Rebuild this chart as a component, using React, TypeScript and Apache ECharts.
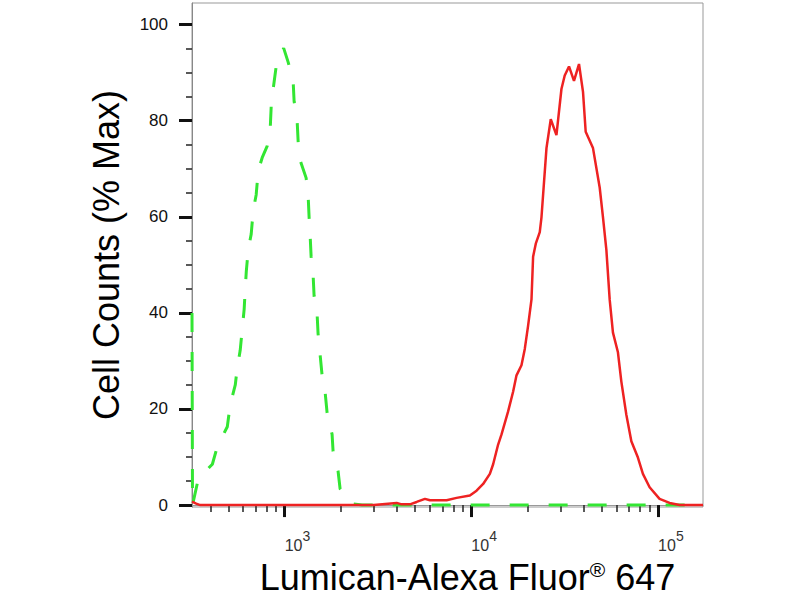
import * as echarts from "echarts";
import { useEffect, useRef } from "react";

// axis ranges (log x, linear y)
const xMin = 319;
const xMax = 174000;
const yMin = -0.4;
const yMax = 104.5;

const xMajorTicks = [1000, 10000, 100000];
const xMinorTicks = [
    400, 500, 600, 700, 800, 900,
    2000, 3000, 4000, 5000, 6000, 7000, 8000, 9000,
    20000, 30000, 40000, 50000, 60000, 70000, 80000, 90000
];
const yMajorTicks = [0, 20, 40, 60, 80, 100];
const yMinorTicks = [5, 10, 15, 25, 30, 35, 45, 50, 55, 65, 70, 75, 85, 90, 95];

// isotype control (green dashed)
const greenX = [
    319, 321, 345, 410, 436, 493, 511, 544, 557, 578, 593, 607, 615, 623, 638, 662, 679, 704,
    722, 758, 806, 837, 847, 868, 900, 970, 988, 1044, 1110, 1124, 1166, 1181, 1210, 1303,
    1336, 1352, 1369, 1386, 1420, 1438, 1492, 1510, 1587, 1647, 1688, 1795, 1817, 1932, 1981,
    2296, 2600, 5000, 20000, 100000, 174000
];
const greenY = [
    40, 0, 5.5, 8.5, 12.2, 16.3, 20.9, 25.0, 28.5, 32.2, 36.7, 40.8, 44.9, 48.6, 53.1, 56.4, 61.4, 64.6,
    69.6, 72.3, 74.7, 78.4, 82.9, 86.6, 91.2, 94.4, 95.1, 92.2, 88.3, 84.0, 80.1, 75.7, 71.8, 68.1,
    64.4, 59.9, 56.2, 51.7, 48.0, 43.5, 39.8, 35.7, 27.0, 23.5, 19.2, 14.7, 11.2, 7.1, 3.4,
    0.3, 0, 0, 0, 0, 0
];

// Lumican stained (red)
const redX = [
    319, 336, 353, 1000, 3000, 3981, 4234, 4690, 5093, 5641, 5998, 7369, 8334, 9818, 10661,
    11563, 12561, 13081, 13910, 14506, 15735, 16730, 17447, 18550, 19325, 20125, 20990, 21410,
    22130, 23245, 23740, 25250, 26620, 28550, 30370, 31620, 33340, 35450, 37710, 39620, 40950,
    44810, 48670, 50690, 52850, 55040, 57320, 60950, 63570, 67610, 71910, 77980, 82940, 90070,
    101850, 115200, 130300, 174000
];
const redY = [
    0.7, 0.3, 0, 0, 0, 0.45, 0.15, 0.15, 0.65, 1.3, 1.0, 1.0, 1.5, 2.0, 3.0,
    4.4, 6.5, 8.5, 12.6, 14.7, 19.5, 23.6, 27.0, 29.1, 32.5, 37.3, 42.8, 51.7,
    54.4, 56.8, 59.9, 74.3, 80.3, 77.0, 86.6, 89.4, 91.3, 88.3, 91.8, 86.0, 77.7,
    74.3, 66.1, 59.9, 53.1, 42.8, 35.9, 31.8, 25.7, 18.8, 13.3, 9.9, 6.5, 3.7,
    1.3, 0.45, 0, 0
];

const FONT = "Liberation Sans, Arial, sans-serif";

export default function App() {
    const chartRef = useRef<HTMLDivElement>(null);

    useEffect(() => {
        if (!chartRef.current) return;
        const chart = echarts.init(chartRef.current, null, { renderer: "svg" });

        const option: echarts.EChartsOption = {
            animation: false,
            backgroundColor: "#fff",
            grid: {
                left: 192,
                right: 97,
                top: 3,
                bottom: 87,
                show: true,
                borderColor: "#999",
                borderWidth: 1
            },
            xAxis: [
                {
                    type: "log",
                    logBase: 10,
                    min: xMin,
                    max: xMax,
                    position: "bottom",
                    name: "{a|Lumican-Alexa Fluor}{r|®}{a| 647}",
                    nameLocation: "middle",
                    nameGap: 52,
                    nameTextStyle: {
                        fontFamily: FONT,
                        color: "#000",
                        padding: [0, 0, 0, 40],
                        rich: {
                            a: { fontFamily: FONT, fontSize: 36, color: "#000", verticalAlign: "bottom" },
                            r: { fontFamily: FONT, fontSize: 21, color: "#000", verticalAlign: "top" }
                        }
                    },
                    axisLine: { lineStyle: { color: "#999", width: 1 } },
                    axisTick: {
                        customValues: xMajorTicks,
                        length: 12,
                        lineStyle: { color: "#111", width: 3 }
                    },
                    axisLabel: {
                        customValues: xMajorTicks,
                        margin: 22,
                        align: "left",
                        formatter: (v: number) => `{a|10}{s|${Math.round(Math.log10(v))}}`,
                        rich: {
                            a: { fontFamily: FONT, fontSize: 16, color: "#333", verticalAlign: "bottom" },
                            s: {
                                fontFamily: FONT,
                                fontSize: 14,
                                color: "#333",
                                verticalAlign: "top",
                                padding: [0, 0, 10, 0]
                            }
                        }
                    },
                    splitLine: { show: false }
                },
                {
                    type: "log",
                    logBase: 10,
                    min: xMin,
                    max: xMax,
                    position: "bottom",
                    axisLine: { show: false },
                    axisTick: {
                        customValues: xMinorTicks,
                        length: 7,
                        lineStyle: { color: "#222", width: 1.5 }
                    },
                    axisLabel: { show: false },
                    splitLine: { show: false }
                }
            ],
            yAxis: [
                {
                    type: "value",
                    min: yMin,
                    max: yMax,
                    position: "left",
                    name: "Cell Counts (% Max)",
                    nameLocation: "middle",
                    nameRotate: 90,
                    nameGap: 68,
                    nameTextStyle: { fontFamily: FONT, fontSize: 36, color: "#000" },
                    axisLine: { show: true, lineStyle: { color: "#888", width: 1 } },
                    axisTick: {
                        customValues: yMajorTicks,
                        length: 13,
                        lineStyle: { color: "#111", width: 3 }
                    },
                    axisLabel: {
                        customValues: yMajorTicks,
                        margin: 24,
                        fontFamily: FONT,
                        fontSize: 17,
                        color: "#111"
                    },
                    splitLine: { show: false }
                },
                {
                    type: "value",
                    min: yMin,
                    max: yMax,
                    position: "left",
                    axisLine: { show: false },
                    axisTick: {
                        customValues: yMinorTicks,
                        length: 6,
                        lineStyle: { color: "#222", width: 1.5 }
                    },
                    axisLabel: { show: false },
                    splitLine: { show: false }
                }
            ],
            series: [
                {
                    name: "Isotype",
                    type: "line",
                    xAxisIndex: 0,
                    yAxisIndex: 0,
                    symbol: "none",
                    data: greenX.map((x, i) => [x, greenY[i]]),
                    lineStyle: { color: "#33e633", width: 3, type: [19, 20] },
                    z: 2
                },
                {
                    name: "Lumican",
                    type: "line",
                    xAxisIndex: 0,
                    yAxisIndex: 0,
                    symbol: "none",
                    data: redX.map((x, i) => [x, redY[i]]),
                    lineStyle: { color: "#ee2222", width: 2.5 },
                    z: 3
                }
            ]
        };

        chart.setOption(option);

        return () => {
            chart.dispose();
        };
    }, []);

    return (
        <div
            ref={chartRef}
            style={{ position: "fixed", left: 0, top: 0, width: 800, height: 600, background: "#fff" }}
        />
    );
}
